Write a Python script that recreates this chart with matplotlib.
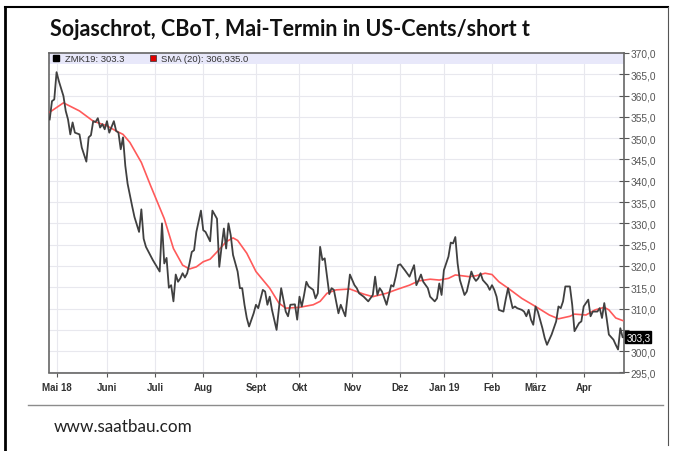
import numpy as np
import matplotlib
matplotlib.use('Agg')
import matplotlib.pyplot as plt
from matplotlib.lines import Line2D
from matplotlib.patches import Rectangle

# Kurs ZMK19 (Handelstag ab 26.04.2018, Wert in US-Cents/short t)
price_day = [0, 1, 2, 3, 4, 6, 7, 8, 9, 10, 11, 13, 14, 16, 17, 18, 19, 20, 21, 22,
             23, 24, 25, 26, 28, 29, 30, 31, 32, 33, 34, 36, 37, 39, 40, 41, 42, 45, 48, 49,
             50, 51, 52, 53, 54, 55, 56, 57, 58, 59, 60, 61, 62, 63, 64, 66, 67, 68, 70, 71,
             73, 74, 75, 76, 77, 78, 79, 80, 82, 83, 84, 85, 86, 87, 89, 90, 91, 93, 94, 95,
             96, 97, 99, 101, 103, 104, 105, 107, 108, 109, 110, 111, 112, 113, 115, 116, 117, 118, 119, 120,
             122, 123, 124, 126, 127, 129, 131, 133, 134, 135, 137, 139, 141, 142, 143, 144, 145, 147, 148, 149,
             150, 151, 152, 153, 155, 157, 159, 160, 161, 162, 163, 165, 166, 168, 169, 170, 171, 172, 174, 175,
             176, 177, 178, 179, 181, 182, 184, 185, 186, 187, 188, 189, 191, 192, 193, 194, 195, 196, 198, 199,
             200, 202, 203, 204, 206, 207, 208, 209, 210, 211, 212, 213, 215, 216, 217, 219, 221, 222, 223, 224,
             225, 227, 228, 229, 231, 232, 233, 234, 235, 236, 237, 239, 240, 241, 242, 243, 244, 246, 247, 248,
             249, 250]
price = [354.4, 358.7, 359.1, 365.5, 363.4, 359.9, 356.4, 354.4, 350.9, 353.7, 351.3, 350.9, 347.8, 344.5, 350.2, 350.7, 354.0, 353.8, 354.7, 352.5,
         353.3, 352.1, 354.0, 351.3, 354.0, 351.7, 351.3, 347.4, 350.2, 343.5, 339.3, 334.0, 331.5, 328.0, 333.3, 326.4, 324.5, 321.4, 318.7, 330.0,
         320.6, 321.9, 314.9, 315.5, 311.7, 318.0, 316.3, 317.1, 318.3, 317.3, 318.3, 320.6, 323.3, 323.7, 328.0, 333.0, 328.4, 328.0, 325.8, 333.0,
         331.1, 319.8, 324.5, 328.8, 324.1, 330.0, 327.2, 322.6, 318.7, 314.8, 314.8, 310.9, 307.8, 305.8, 308.9, 310.9, 310.1, 314.4, 314.0, 310.9,
         312.8, 309.7, 305.0, 314.8, 309.3, 308.2, 310.9, 311.0, 307.4, 312.8, 310.5, 313.2, 316.3, 315.2, 314.4, 312.4, 313.6, 324.5, 321.4, 321.8,
         313.4, 314.8, 314.4, 308.9, 310.9, 308.2, 318.0, 315.5, 314.8, 313.6, 312.8, 311.7, 313.2, 317.5, 313.2, 314.8, 314.0, 310.9, 313.2, 315.5,
         315.2, 317.5, 320.2, 320.4, 319.0, 317.5, 320.2, 315.5, 316.7, 318.0, 316.3, 314.8, 312.8, 311.7, 312.4, 315.9, 313.2, 319.0, 322.2, 325.5,
         325.3, 326.8, 320.6, 316.7, 313.2, 314.0, 318.7, 317.3, 316.5, 317.1, 318.3, 316.7, 315.5, 314.4, 315.5, 314.4, 312.8, 309.7, 309.3, 312.2,
         314.8, 310.1, 310.5, 310.1, 309.7, 309.3, 308.2, 309.7, 307.4, 306.2, 310.5, 309.3, 305.4, 303.1, 301.5, 303.9, 307.0, 310.5, 310.1, 311.7,
         315.2, 315.2, 310.9, 304.7, 306.6, 307.0, 310.5, 311.3, 312.1, 308.2, 309.3, 309.3, 310.1, 307.8, 311.3, 307.8, 303.9, 302.7, 301.5, 300.4,
         305.4, 303.3]

# gleitender Durchschnitt SMA (20)
sma_day = [0, 6, 13, 19, 25, 29, 32, 35, 40, 44, 50, 54, 58, 61, 64, 67, 70, 73, 77, 80,
           82, 86, 90, 96, 100, 103, 109, 115, 118, 121, 125, 131, 137, 141, 147, 151, 157, 161, 166, 170,
           174, 177, 183, 186, 190, 193, 196, 200, 206, 212, 218, 222, 227, 229, 234, 238, 242, 244, 247, 250]
sma = [356.1, 358.3, 356.4, 354.0, 352.9, 351.7, 350.9, 349.0, 344.3, 338.9, 331.1, 324.1, 320.2, 319.3, 319.8, 321.0, 321.6, 323.3, 325.7, 326.6,
       326.0, 323.0, 318.7, 314.8, 311.3, 310.1, 310.3, 310.9, 311.7, 313.6, 314.4, 314.6, 313.4, 312.8, 313.6, 314.4, 315.5, 316.5, 316.9, 316.7,
       317.1, 317.9, 317.5, 317.7, 318.3, 318.0, 316.3, 314.8, 312.4, 310.5, 308.5, 307.6, 308.2, 308.7, 308.5, 309.7, 310.3, 309.7, 307.8, 307.2]

# Monatsanfang als Handelstag-Index
month_day = [3, 25, 46, 67, 90, 109, 132, 153, 172, 193, 212, 233]
month_labels = ['Mai 18', 'Juni', 'Juli', 'Aug', 'Sept', 'Okt', 'Nov', 'Dez', 'Jan 19', 'Feb', 'März', 'Apr']
y_ticks = np.arange(295, 371, 5)

last_price = 303.3
legend_price = 'ZMK19: 303.3'
legend_sma = 'SMA (20): 306,935.0'

W, H = 675, 452
fig = plt.figure(figsize=(W / 100, H / 100), dpi=100)
fig.patch.set_facecolor('white')

def fx(px):
    return px / W

def fy(py):
    return 1 - py / H

# Rahmen
fig.add_artist(Line2D([fx(5), fx(5)], [fy(8), fy(452)], color='black', lw=2))
fig.add_artist(Line2D([fx(5), fx(668)], [fy(8), fy(8)], color='black', lw=1.5))
fig.add_artist(Line2D([fx(668), fx(668)], [fy(8), fy(446)], color='#555555', lw=0.8))
fig.add_artist(Line2D([fx(28), fx(663)], [fy(406), fy(406)], color='#8c8c8c', lw=1))

fig.text(fx(50), fy(30), 'Sojaschrot, CBoT, Mai-Termin in US-Cents/short t',
         family=['Lato', 'DejaVu Sans'], weight='bold', fontsize=15.5, color='#111111',
         va='center', ha='left')
fig.text(fx(54), fy(427), 'www.saatbau.com', family=['Lato', 'DejaVu Sans'],
         fontsize=12.3, color='#222222', va='center', ha='left')

ax = fig.add_axes([fx(49), fy(373.5), fx(624) - fx(49), (373.5 - 54) / H])
ax.set_xlim(-0.3, 250.6)
ax.set_ylim(295, 370)

ax.set_xticks(month_day)
ax.set_xticklabels(month_labels)
ax.set_yticks(y_ticks)
ax.set_yticklabels(['' if v == 305 else f'{v:.1f}'.replace('.', ',') for v in y_ticks])
ax.yaxis.tick_right()
ax.grid(True, color='#e8e8ee', lw=0.8)
ax.set_axisbelow(True)

for lab in ax.get_xticklabels():
    lab.set_family(['Liberation Sans', 'DejaVu Sans'])
    lab.set_weight('bold')
    lab.set_fontsize(7)
    lab.set_color('#333333')
for lab in ax.get_yticklabels():
    lab.set_family(['Liberation Sans', 'DejaVu Sans'])
    lab.set_fontsize(7.3)
    lab.set_color('#555555')

ax.tick_params(axis='x', length=3, width=0.8, color='#555555', pad=4)
ax.tick_params(axis='y', direction='inout', length=7, width=0.8, color='#555555', pad=1)
for s in ax.spines.values():
    s.set_color('#666666')
    s.set_linewidth(1.2)

# Legendenband
ax.add_patch(Rectangle((0, 1 - 11 / 320), 1, 11 / 320, transform=ax.transAxes,
                       facecolor='#e8e8fa', edgecolor='none', zorder=1))
ax.plot([0.013], [0.983], 's', color='black', ms=4, transform=ax.transAxes, zorder=5)
ax.text(0.027, 0.983, legend_price, transform=ax.transAxes, fontsize=6.8,
        family=['Liberation Sans', 'DejaVu Sans'], color='#333333', va='center', zorder=5)
ax.plot([0.18], [0.983], 's', color='#e00000', mec='#333333', mew=0.5, ms=4,
        transform=ax.transAxes, zorder=5)
ax.text(0.194, 0.983, legend_sma, transform=ax.transAxes, fontsize=6.8,
        family=['Liberation Sans', 'DejaVu Sans'], color='#333333', va='center', zorder=5)

ax.plot(sma_day, sma, color='#ff5a5a', lw=1.2, zorder=3)
ax.plot(price_day, price, color='#404040', lw=1.3, zorder=4)

# letzter Kurs
ax.text(1.004, last_price, f'{last_price:.1f}'.replace('.', ','), transform=ax.get_yaxis_transform(),
        fontsize=7, family=['Liberation Sans', 'DejaVu Sans'], color='white', va='center', ha='left',
        bbox=dict(boxstyle='square,pad=0.1', facecolor='black', edgecolor='black'), zorder=6,
        clip_on=False)

fig.savefig('out.png', dpi=100)
